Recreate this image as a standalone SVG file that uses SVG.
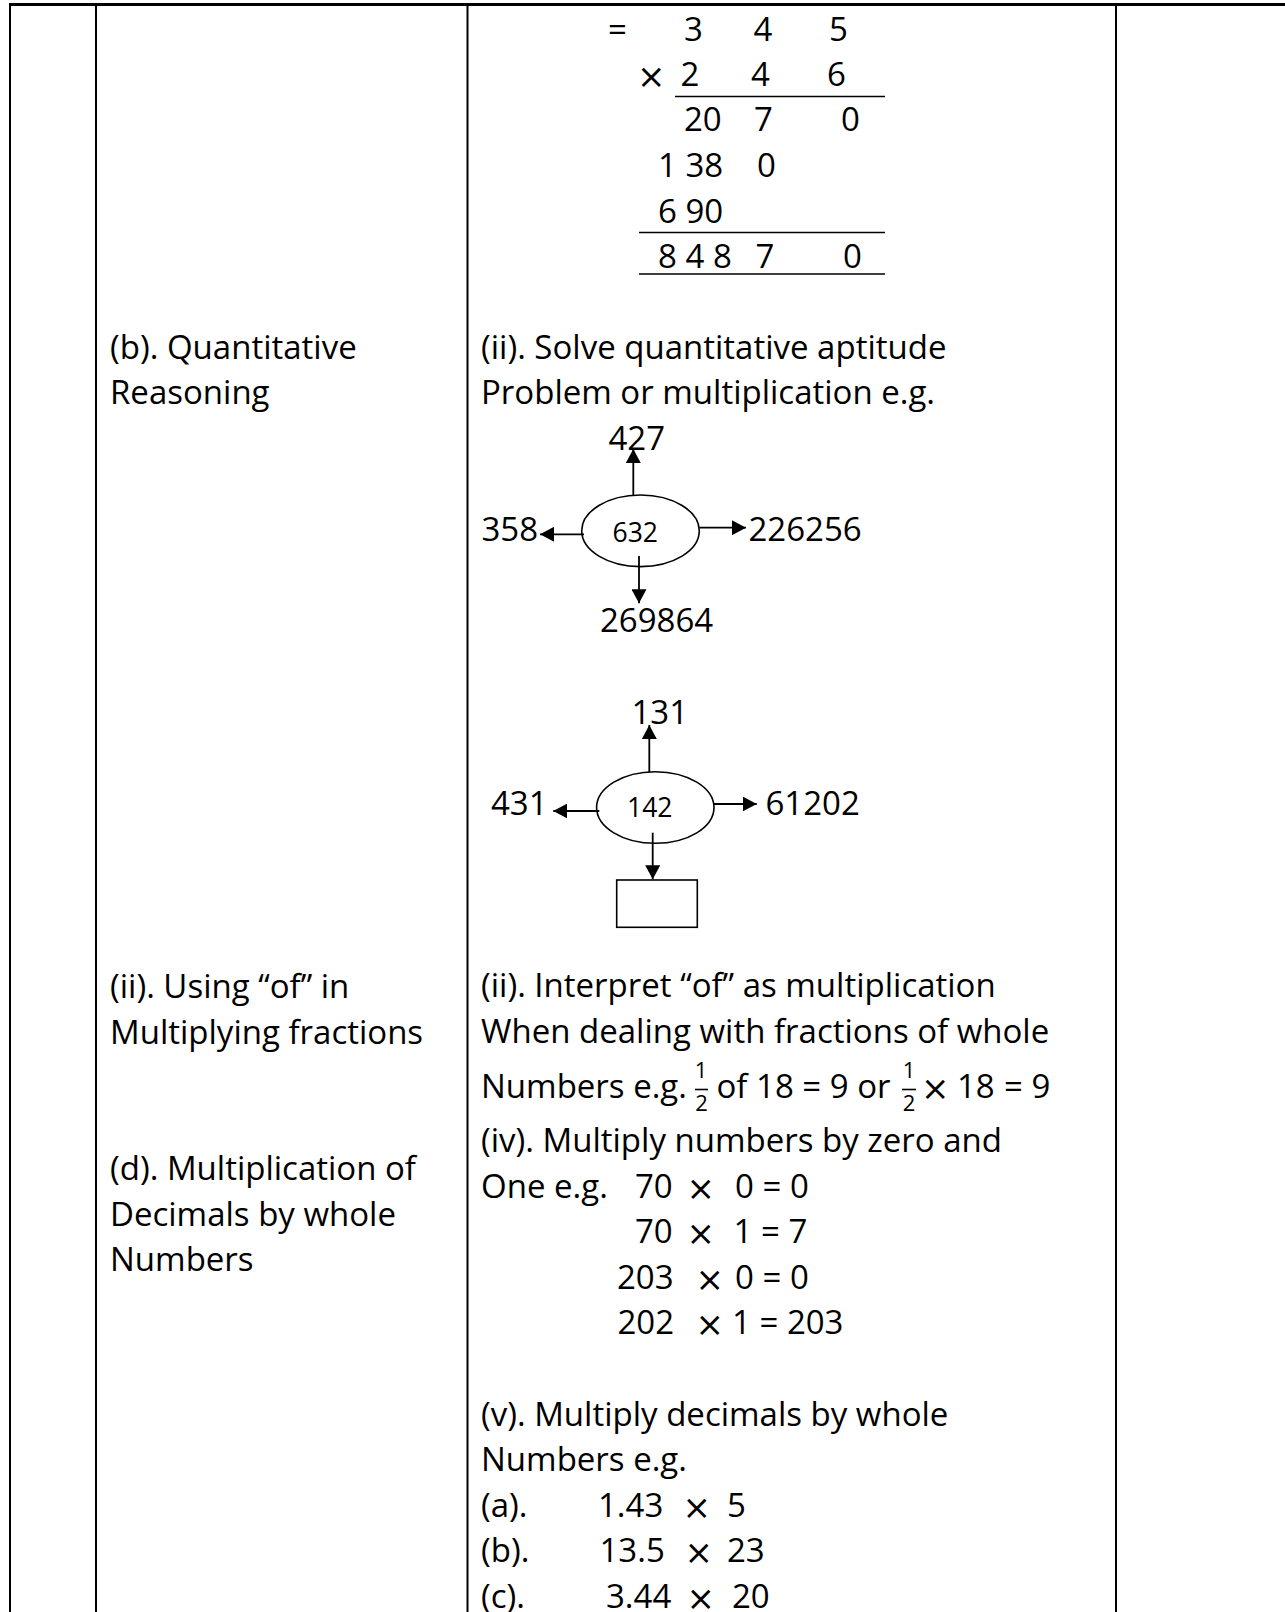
<svg xmlns="http://www.w3.org/2000/svg" width="1285" height="1612" viewBox="0 0 1285 1612">
  <style>
    text { font-family: "Open Sans", "Liberation Sans", sans-serif; fill: #000; }
    .t { font-size: 33px; }
    .s { font-size: 26.5px; }
    .f { font-size: 22px; text-anchor: middle; }
    .mul { font-family: "DejaVu Sans", sans-serif; font-size: 34px; }
    .rule { stroke: #000; stroke-width: 2; fill: none; }
    .top { stroke: #000; stroke-width: 3; fill: none; }
    .thin { stroke: #000; stroke-width: 1.6; fill: none; }
    .node { stroke: #000; stroke-width: 1.6; fill: #fff; }
    .arrow { stroke: #000; stroke-width: 1.8; fill: none; marker-end: url(#head); }
  </style>
  <defs>
    <marker id="head" markerUnits="userSpaceOnUse" markerWidth="15" markerHeight="15" refX="14" refY="7.5" orient="auto">
      <path d="M0,0 L14,7.5 L0,15 z" fill="#000"/>
    </marker>
  </defs>

  <rect x="0" y="0" width="1285" height="1612" fill="#fff"/>

  <!-- table grid -->
  <g id="grid">
    <line class="top" x1="9" y1="4.5" x2="1285" y2="4.5"/>
    <line class="rule" x1="10" y1="3" x2="10" y2="1612"/>
    <line class="rule" x1="96" y1="3" x2="96" y2="1612"/>
    <line class="rule" x1="467.5" y1="3" x2="467.5" y2="1612"/>
    <line class="rule" x1="1116" y1="3" x2="1116" y2="1612"/>
  </g>

  <!-- topic column -->
  <g id="topics" class="t">
    <text x="110" y="358.5">(b). Quantitative</text>
    <text x="110" y="404">Reasoning</text>
    <text x="110" y="998">(ii). Using “of” in</text>
    <text x="110" y="1043.5">Multiplying fractions</text>
    <text x="110" y="1180">(d). Multiplication of</text>
    <text x="110" y="1225.5">Decimals by whole</text>
    <text x="110" y="1271">Numbers</text>
  </g>

  <!-- long multiplication 345 x 246 -->
  <g id="long-multiplication" class="t">
    <text x="608" y="41">=</text>
    <text x="684" y="41">3</text>
    <text x="753.5" y="41">4</text>
    <text x="829" y="41">5</text>
    <text class="mul" x="637" y="88">×</text>
    <text x="680.5" y="86">2</text>
    <text x="751" y="86">4</text>
    <text x="827" y="86">6</text>
    <text x="684" y="131">20</text>
    <text x="754" y="131">7</text>
    <text x="841" y="131">0</text>
    <text x="658" y="177">1 38</text>
    <text x="757" y="177">0</text>
    <text x="658" y="222.5">6 90</text>
    <text x="658" y="268">8 4 8</text>
    <text x="755.5" y="268">7</text>
    <text x="843" y="268">0</text>
    <line class="thin" x1="675" y1="96.5" x2="885" y2="96.5"/>
    <line class="thin" x1="639" y1="232.5" x2="885" y2="232.5"/>
    <line class="thin" x1="639" y1="274" x2="885" y2="274"/>
  </g>

  <!-- quantitative aptitude text -->
  <g id="aptitude-text" class="t">
    <text x="481" y="358.5">(ii). Solve quantitative aptitude</text>
    <text x="481" y="404">Problem or multiplication e.g.</text>
  </g>

  <!-- first number wheel: 632 -->
  <g id="hub-632">
    <ellipse class="node" cx="640.5" cy="530.8" rx="58.8" ry="35.8"/>
    <text class="s" x="612.5" y="541.5">632</text>
  </g>
  <g id="out-427"><text class="t" x="608.5" y="450">427</text></g>
  <g id="out-358"><text class="t" x="481.5" y="541">358</text></g>
  <g id="out-226256"><text class="t" x="748.5" y="541">226256</text></g>
  <g id="out-269864"><text class="t" x="600" y="632">269864</text></g>

  <!-- second number wheel: 142 -->
  <g id="hub-142">
    <ellipse class="node" cx="655.3" cy="807.5" rx="58.7" ry="35.8"/>
    <text class="s" x="627" y="817">142</text>
  </g>
  <g id="out-131"><text class="t" x="631.5" y="724">131</text></g>
  <g id="out-431"><text class="t" x="491" y="815">431</text></g>
  <g id="out-61202"><text class="t" x="765.5" y="815">61202</text></g>
  <g id="out-blank"><rect class="thin" x="616.7" y="880" width="80.6" height="47.3"/></g>

  <!-- arrows -->
  <g id="connectors">
    <line class="arrow" x1="633.3" y1="495" x2="633.3" y2="449"/>
    <line class="arrow" x1="584" y1="534.3" x2="540" y2="534.3"/>
    <line class="arrow" x1="699.3" y1="527.7" x2="746" y2="527.7"/>
    <line class="arrow" x1="639" y1="556" x2="639" y2="603.3"/>
    <line class="arrow" x1="649.3" y1="772" x2="649.3" y2="725"/>
    <line class="arrow" x1="599.3" y1="811" x2="553.3" y2="811"/>
    <line class="arrow" x1="714" y1="804" x2="756.7" y2="804"/>
    <line class="arrow" x1="652.7" y1="832.7" x2="652.7" y2="879.3"/>
  </g>

  <!-- "of" as multiplication -->
  <g id="of-text" class="t">
    <text x="481" y="997">(ii). Interpret “of” as multiplication</text>
    <text x="481" y="1042.5">When dealing with fractions of whole</text>
    <text x="481" y="1098">Numbers e.g.</text>
    <text class="f" x="701" y="1078">1</text>
    <line class="thin" x1="695" y1="1089.5" x2="708" y2="1089.5"/>
    <text class="f" x="701.5" y="1111">2</text>
    <text x="716.5" y="1098">of 18 = 9 or</text>
    <text class="f" x="909" y="1078">1</text>
    <line class="thin" x1="902" y1="1089.5" x2="916" y2="1089.5"/>
    <text class="f" x="909" y="1111">2</text>
    <text class="mul" x="921" y="1100">×</text>
    <text x="957" y="1098">18</text>
    <text x="1004" y="1098">= 9</text>
  </g>

  <!-- multiply by zero and one -->
  <g id="zero-one" class="t">
    <text x="481" y="1152">(iv). Multiply numbers by zero and</text>
    <text x="481" y="1197.5">One e.g.</text>
    <text x="635" y="1197.5">70</text>
    <text class="mul" x="686.5" y="1199.5">×</text>
    <text x="735" y="1197.5">0 = 0</text>
    <text x="635" y="1243">70</text>
    <text class="mul" x="686.5" y="1245">×</text>
    <text x="733.5" y="1243">1 = 7</text>
    <text x="617" y="1288.5">203</text>
    <text class="mul" x="695.5" y="1290.5">×</text>
    <text x="735" y="1288.5">0 = 0</text>
    <text x="617.5" y="1334">202</text>
    <text class="mul" x="695.5" y="1336">×</text>
    <text x="732" y="1334">1 = 203</text>
  </g>

  <!-- decimals by whole numbers -->
  <g id="decimals" class="t">
    <text x="481" y="1425.5">(v). Multiply decimals by whole</text>
    <text x="481" y="1471">Numbers e.g.</text>
    <text x="481" y="1516.5">(a).</text>
    <text x="598" y="1516.5">1.43</text>
    <text class="mul" x="682.5" y="1518.5">×</text>
    <text x="727" y="1516.5">5</text>
    <text x="481" y="1562">(b).</text>
    <text x="599.5" y="1562">13.5</text>
    <text class="mul" x="684.5" y="1564">×</text>
    <text x="727" y="1562">23</text>
    <text x="481" y="1607.5">(c).</text>
    <text x="606" y="1607.5">3.44</text>
    <text class="mul" x="686.5" y="1609.5">×</text>
    <text x="732" y="1607.5">20</text>
  </g>
</svg>
